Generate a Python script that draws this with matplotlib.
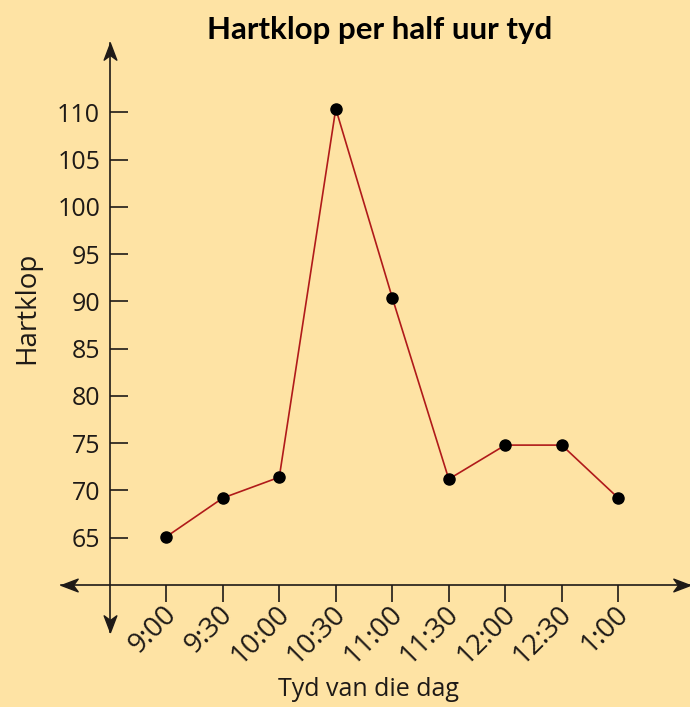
import matplotlib
matplotlib.use("Agg")
import matplotlib.pyplot as plt
from matplotlib.path import Path
from matplotlib.transforms import ScaledTranslation

times = ["9:00", "9:30", "10:00", "10:30", "11:00", "11:30", "12:00", "12:30", "1:00"]
heart_rate = [65.1, 69.2, 71.4, 110.4, 90.4, 71.2, 74.8, 74.8, 69.2]
y_ticks = [65, 70, 75, 80, 85, 90, 95, 100, 105, 110]

BG = "#FEE3A4"
INK = "#1e1a17"
LINE_RED = "#B01A1A"

plt.rcParams["font.family"] = ["Open Sans", "DejaVu Sans"]

# concave arrowhead, tip at the origin, pointing right
_head = [(0, 0), (-1, 0.38), (-0.72, 0), (-1, -0.38), (0, 0)]


def arrow_marker(direction):
    rot = {"right": lambda x, y: (x, y), "left": lambda x, y: (-x, y),
           "up": lambda x, y: (y, x), "down": lambda x, y: (y, -x)}[direction]
    verts = [rot(x, y) for x, y in _head]
    codes = [Path.MOVETO, Path.LINETO, Path.LINETO, Path.LINETO, Path.CLOSEPOLY]
    return Path(verts, codes)


fig = plt.figure(figsize=(6.9, 7.07), dpi=100)
fig.patch.set_facecolor(BG)
ax = fig.add_axes([0.0887, 0.1058, 0.9113, 0.834])
ax.set_facecolor(BG)

x = list(range(len(times)))
x_min, x_max = -1.86, 9.27
y_min, y_max = 55.0, 117.4
ax.set_xlim(x_min, x_max)
ax.set_ylim(y_min, y_max)

ax.plot(x, heart_rate, color=LINE_RED, lw=1.2, zorder=3)
ax.plot(x, heart_rate, "o", color="black", ms=8, zorder=4)

for side in ("top", "right"):
    ax.spines[side].set_visible(False)
ax.spines["left"].set_position(("data", -1))
ax.spines["bottom"].set_position(("data", 60))
for side in ("left", "bottom"):
    ax.spines[side].set_color(INK)
    ax.spines[side].set_linewidth(1.2)

ax.set_yticks(y_ticks)
ax.set_yticklabels([str(v) for v in y_ticks])
ax.set_xticks(x)
ax.set_xticklabels(times, rotation=45, ha="right", va="center",
                   rotation_mode="anchor")
ax.tick_params(axis="y", direction="in", length=13, width=1.2, color=INK,
               labelsize=18, pad=7, labelcolor=INK)
ax.tick_params(axis="x", direction="out", length=12, width=1.2, color=INK,
               labelsize=20, pad=6, labelcolor=INK)
# nudge the slanted time labels a little to the right of their ticks
shift = ScaledTranslation(6 / 100, 0, fig.dpi_scale_trans)
for lbl in ax.get_xticklabels():
    lbl.set_transform(lbl.get_transform() + shift)

# arrowheads on both axes
ms = 24
ax.plot([x_min], [60], marker=arrow_marker("left"), ms=ms, color=INK,
        clip_on=False, zorder=5)
ax.plot([x_max], [60], marker=arrow_marker("right"), ms=ms, color=INK,
        clip_on=False, zorder=5)
ax.plot([-1], [y_max], marker=arrow_marker("up"), ms=ms, color=INK,
        clip_on=False, zorder=5)
ax.plot([-1], [y_min], marker=arrow_marker("down"), ms=ms, color=INK,
        clip_on=False, zorder=5)

fig.text(380 / 690, 1 - 30 / 707, "Hartklop per half uur tyd", ha="center",
         va="center", fontsize=22.5, fontweight="bold", color="black",
         family=["Lato", "DejaVu Sans"])
fig.text(27 / 690, 1 - 308 / 707, "Hartklop", rotation=90, ha="center",
         va="center", fontsize=20, color=INK)
fig.text(368 / 690, 1 - 690 / 707, "Tyd van die dag", ha="center",
         va="center", fontsize=18, color=INK)

fig.savefig("out.png", dpi=100, facecolor=BG)
